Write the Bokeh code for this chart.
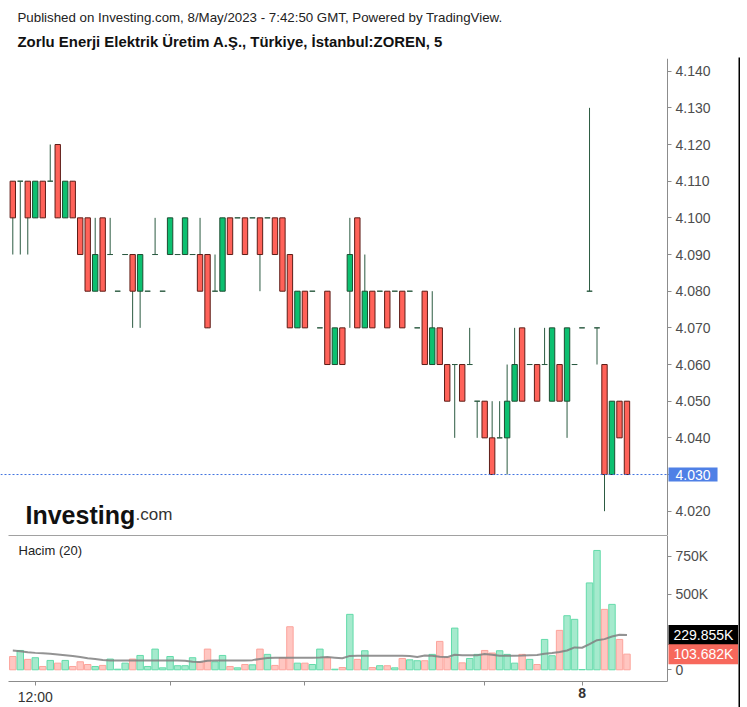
from bokeh.plotting import figure
from bokeh.models import Range1d, FixedTicker, LinearAxis, Label, ColumnDataSource, NumeralTickFormatter
from bokeh.layouts import column, row
from bokeh.embed import file_html
from bokeh.resources import INLINE

# ---------------- data (5-minute candles, ZOREN) ----------------
opens = [4.110, 4.110, 4.110, 4.100, 4.110, 4.110, 4.120, 4.100, 4.110, 4.100,
         4.100, 4.080, 4.100, 4.090, 4.080, 4.090, 4.090, 4.080, 4.080, 4.090,
         4.080, 4.090, 4.090, 4.090, 4.090, 4.090, 4.090, 4.080, 4.080, 4.100,
         4.100, 4.100, 4.100, 4.100, 4.100, 4.100, 4.100, 4.090, 4.070, 4.080,
         4.080, 4.070, 4.080, 4.060, 4.070, 4.080, 4.100, 4.070, 4.080, 4.080,
         4.080, 4.080, 4.080, 4.080, 4.070, 4.080, 4.060, 4.070, 4.060, 4.060,
         4.060, 4.060, 4.050, 4.050, 4.040, 4.040, 4.040, 4.050, 4.070, 4.060,
         4.060, 4.060, 4.050, 4.060, 4.050, 4.060, 4.070, 4.080, 4.070, 4.060,
         4.030, 4.050, 4.050]
highs = [4.110, 4.110, 4.110, 4.110, 4.110, 4.120, 4.120, 4.110, 4.110, 4.100,
         4.100, 4.100, 4.100, 4.100, 4.080, 4.090, 4.090, 4.090, 4.080, 4.100,
         4.080, 4.100, 4.090, 4.100, 4.090, 4.100, 4.090, 4.090, 4.100, 4.100,
         4.100, 4.100, 4.100, 4.100, 4.100, 4.100, 4.100, 4.090, 4.080, 4.080,
         4.080, 4.070, 4.080, 4.070, 4.070, 4.100, 4.100, 4.090, 4.080, 4.080,
         4.080, 4.080, 4.080, 4.080, 4.070, 4.080, 4.080, 4.070, 4.060, 4.060,
         4.060, 4.070, 4.050, 4.050, 4.050, 4.050, 4.060, 4.070, 4.070, 4.060,
         4.060, 4.070, 4.070, 4.060, 4.070, 4.060, 4.070, 4.130, 4.070, 4.060,
         4.050, 4.050, 4.050]
lows = [4.090, 4.090, 4.090, 4.100, 4.100, 4.110, 4.100, 4.100, 4.100, 4.090,
        4.080, 4.080, 4.080, 4.090, 4.080, 4.090, 4.070, 4.070, 4.080, 4.090,
        4.080, 4.090, 4.090, 4.090, 4.090, 4.080, 4.070, 4.080, 4.080, 4.090,
        4.100, 4.090, 4.100, 4.080, 4.100, 4.090, 4.080, 4.070, 4.070, 4.070,
        4.080, 4.070, 4.060, 4.060, 4.060, 4.070, 4.070, 4.070, 4.070, 4.080,
        4.070, 4.080, 4.070, 4.080, 4.070, 4.060, 4.060, 4.060, 4.050, 4.040,
        4.050, 4.060, 4.040, 4.040, 4.030, 4.040, 4.030, 4.050, 4.050, 4.060,
        4.050, 4.060, 4.050, 4.050, 4.040, 4.060, 4.070, 4.080, 4.060, 4.020,
        4.030, 4.040, 4.030]
closes = [4.100, 4.110, 4.100, 4.110, 4.100, 4.110, 4.100, 4.110, 4.100, 4.090,
          4.080, 4.090, 4.080, 4.090, 4.080, 4.090, 4.080, 4.090, 4.080, 4.090,
          4.080, 4.100, 4.090, 4.100, 4.090, 4.080, 4.070, 4.080, 4.100, 4.090,
          4.100, 4.090, 4.100, 4.090, 4.100, 4.090, 4.080, 4.070, 4.080, 4.070,
          4.080, 4.070, 4.060, 4.070, 4.060, 4.090, 4.070, 4.080, 4.070, 4.080,
          4.070, 4.080, 4.070, 4.080, 4.070, 4.060, 4.070, 4.060, 4.050, 4.060,
          4.050, 4.060, 4.050, 4.040, 4.030, 4.040, 4.050, 4.060, 4.050, 4.060,
          4.050, 4.060, 4.070, 4.050, 4.070, 4.060, 4.070, 4.080, 4.070, 4.030,
          4.050, 4.040, 4.030]
volumes_k = [88, 128, 69, 80, 22, 62, 44, 62, 22, 53,
             35, 22, 29, 71, 4, 44, 71, 95, 22, 137,
             13, 88, 27, 27, 80, 49, 137, 53, 95, 22,
             13, 35, 33, 137, 102, 29, 80, 285, 44, 44,
             35, 137, 80, 4, 15, 367, 69, 126, 15, 27,
             27, 13, 75, 66, 60, 60, 102, 188, 80, 276,
             46, 75, 102, 128, 111, 126, 102, 44, 102, 69,
             35, 201, 93, 261, 358, 334, 2, 575, 790, 400,
             433, 201, 103.682]
ma20_k = [128, 123, 116, 112, 109, 106, 102, 97, 92, 84,
          76, 72, 65, 62, 62, 62, 62, 62, 62, 62,
          62, 62, 62, 60, 54, 52, 60, 62, 62, 62,
          62, 62, 64, 72, 78, 80, 80, 80, 80, 80,
          80, 81, 84, 80, 76, 92, 93, 93, 93, 93,
          93, 93, 93, 92, 85, 94, 93, 87, 84, 100,
          97, 97, 97, 104, 100, 93, 93, 93, 94, 96,
          98, 106, 111, 118, 128, 148, 146, 170, 196, 203,
          220, 232, 229.855]
time_tick_idx = [3, 21, 39, 63, 76]
time_tick_labels = ["12:00", "", "", "", ""]
day_label = "8"
price_ticks = [4.020, 4.030, 4.040, 4.050, 4.060, 4.070, 4.080, 4.090, 4.100, 4.110, 4.120, 4.130, 4.140]
vol_ticks = [0, 500, 750]
vol_tick_labels = ["0", "500K", "750K"]

title1 = "Published on Investing.com, 8/May/2023 - 7:42:50 GMT, Powered by TradingView."
title2 = "Zorlu Enerji Elektrik Üretim A.Ş., Türkiye, İstanbul:ZOREN, 5"

# ---------------- styles / layout constants ----------------
FONT = "Liberation Sans"
UP_FILL, UP_LINE = "#0cc070", "#1d4d31"
DN_FILL, DN_LINE = "#ff6259", "#5e1d17"
WICK = "#2c5b42"
VUP_FILL, VUP_LINE = "#a5eacd", "#63dbaa"
VDN_FILL, VDN_LINE = "#ffc6c1", "#fca49c"
AXIS_C = "#8c8c8c"
LABEL_C = "#4d4d4d"

X_START, X_END = -1.642, 96.89      # frame spans the whole 738 px width
X_AXIS = 87.41                       # where the right price axis sits
X_FIRST = -0.574                     # left end of the bottom axis line
P_Y0, P_Y1 = 4.01337, 4.14346
V_Y0, V_Y1 = -249.6, 889.0
V_AXIS_Y = -77.5

n = len(opens)
xs = list(range(n))
fills, lines, vfill, vline, tops, bots = [], [], [], [], [], []
for o, c in zip(opens, closes):
    tops.append(max(o, c))
    bots.append(min(o, c))
    if c > o:
        fills.append(UP_FILL); lines.append(UP_LINE)
    elif c < o:
        fills.append(DN_FILL); lines.append(DN_LINE)
    else:
        fills.append(UP_FILL); lines.append(WICK)
    if c >= o:
        vfill.append(VUP_FILL); vline.append(VUP_LINE)
    else:
        vfill.append(VDN_FILL); vline.append(VDN_LINE)

src = ColumnDataSource(dict(x=xs, high=highs, low=lows, top=tops, bottom=bots,
                            fill=fills, line=lines, vol=volumes_k, vfill=vfill,
                            vline=vline, ma=ma20_k))

xr = Range1d(X_START, X_END)


def bare(fig):
    fig.grid.visible = False
    fig.outline_line_color = None
    fig.background_fill_color = "white"
    fig.border_fill_color = "white"
    return fig


# ---------------- header ----------------
h = bare(figure(width=738, height=58, x_range=Range1d(0, 738), y_range=Range1d(0, 58),
                output_backend="svg", toolbar_location=None, x_axis_location=None,
                y_axis_location=None, min_border=0))
h.add_layout(Label(x=17, y=41, x_units="screen", y_units="screen", text=title1,
                   text_font=FONT, text_font_size="13.3px", text_color="#222222",
                   text_baseline="middle", text_align="left"))
h.add_layout(Label(x=17, y=17, x_units="screen", y_units="screen", text=title2,
                   text_font=FONT, text_font_size="14.9px", text_font_style="bold",
                   text_color="#111111", text_baseline="middle", text_align="left"))

# ---------------- price panel ----------------
p = bare(figure(width=738, height=477, x_range=xr, y_range=Range1d(P_Y0, P_Y1),
                output_backend="svg", toolbar_location=None, x_axis_location=None,
                y_axis_location=None, min_border=0))

ya = LinearAxis(fixed_location=X_AXIS, ticker=FixedTicker(ticks=price_ticks),
                formatter=NumeralTickFormatter(format="0.000"))
ya.axis_line_color = AXIS_C
ya.major_tick_line_color = AXIS_C
ya.major_tick_out = 4
ya.major_tick_in = 0
ya.minor_tick_line_color = None
ya.major_label_standoff = 4
ya.major_label_text_font = FONT
ya.major_label_text_font_size = "14px"
ya.major_label_text_color = LABEL_C
p.add_layout(ya, "right")

p.segment(x0="x", y0="high", x1="x", y1="low", line_color=WICK, line_width=1, source=src)
p.vbar(x="x", width=0.72, top="top", bottom="bottom", fill_color="fill",
       line_color="line", line_width=1, source=src)

last_close = closes[-1]
p.segment(x0=[X_START], x1=[X_AXIS], y0=[last_close], y1=[last_close],
          line_color="#3f72e0", line_dash="2 2", line_width=1)
p.add_layout(Label(x=668, x_units="screen", y=last_close, text=f"{last_close:.3f}",
                   text_color="white", text_font=FONT, text_font_size="14px",
                   text_baseline="middle", text_align="left",
                   background_fill_color="#4f80e6",
                   padding=dict(left=7, right=7, top=2, bottom=2)))

p.add_layout(Label(x=25, y=21, x_units="screen", y_units="screen", text="Investing",
                   text_font=FONT, text_font_size="25px", text_font_style="bold",
                   text_color="#111111", text_baseline="alphabetic", text_align="left"))
p.add_layout(Label(x=135, y=21, x_units="screen", y_units="screen", text=".com",
                   text_font=FONT, text_font_size="17px",
                   text_color="#333333", text_baseline="alphabetic", text_align="left"))

# ---------------- volume panel ----------------
v = bare(figure(width=738, height=172, x_range=xr, y_range=Range1d(V_Y0, V_Y1),
                output_backend="svg", toolbar_location=None, x_axis_location=None,
                y_axis_location=None, min_border=0))

sep = LinearAxis(fixed_location=V_Y1, ticker=FixedTicker(ticks=[]), bounds=(X_FIRST, X_AXIS),
                 major_label_text_font_size="0px", major_tick_out=0, major_tick_in=0,
                 minor_tick_out=0, minor_tick_in=0, axis_line_color="#444444")
v.add_layout(sep, "above")

vy = LinearAxis(fixed_location=X_AXIS, ticker=FixedTicker(ticks=vol_ticks), bounds=(V_AXIS_Y, V_Y1))
vy.major_label_overrides = {t: l for t, l in zip(vol_ticks, vol_tick_labels)}
vy.axis_line_color = AXIS_C
vy.major_tick_line_color = AXIS_C
vy.major_tick_out = 4
vy.major_tick_in = 0
vy.minor_tick_line_color = None
vy.major_label_standoff = 4
vy.major_label_text_font = FONT
vy.major_label_text_font_size = "14px"
vy.major_label_text_color = LABEL_C
v.add_layout(vy, "right")

vx = LinearAxis(fixed_location=V_AXIS_Y, ticker=FixedTicker(ticks=time_tick_idx),
                bounds=(X_FIRST, X_AXIS))
vx.major_label_overrides = {t: l for t, l in zip(time_tick_idx, time_tick_labels)}
vx.axis_line_color = AXIS_C
vx.major_tick_line_color = AXIS_C
vx.major_tick_out = 4
vx.major_tick_in = 0
vx.minor_tick_line_color = None
vx.major_label_standoff = 3
vx.major_label_text_font = FONT
vx.major_label_text_font_size = "14px"
vx.major_label_text_color = "#333333"
v.add_layout(vx, "below")

v.vbar(x="x", width=0.86, top="vol", bottom=0, fill_color="vfill", line_color="vline",
       line_width=1, source=src)
v.line(x="x", y="ma", line_color="#808080", line_width=2, line_alpha=0.85, source=src)

v.add_layout(Label(x=18, y=157, x_units="screen", y_units="screen", text="Hacim (20)",
                   text_font=FONT, text_font_size="13px", text_color="#222222",
                   text_baseline="middle", text_align="left"))
v.add_layout(Label(x=time_tick_idx[-1], y=15, y_units="screen", text=day_label,
                   text_font=FONT, text_font_size="14px", text_font_style="bold",
                   text_color="#333333", text_baseline="middle", text_align="center"))
v.add_layout(Label(x=668, x_units="screen", y=ma20_k[-1], text=f"{ma20_k[-1]:.3f}K",
                   text_color="white", text_font=FONT, text_font_size="14px",
                   text_baseline="middle", text_align="left",
                   background_fill_color="#000000",
                   padding=dict(left=5, right=5, top=2, bottom=2)))
v.add_layout(Label(x=668, x_units="screen", y=volumes_k[-1], text=f"{volumes_k[-1]:.3f}K",
                   text_color="white", text_font=FONT, text_font_size="14px",
                   text_baseline="middle", text_align="left",
                   background_fill_color="#f7685c",
                   padding=dict(left=5, right=5, top=2, bottom=2)))

# ---------------- right border strip ----------------
strip = bare(figure(frame_width=2, frame_height=650, x_range=Range1d(0, 1), y_range=Range1d(0, 1),
                    output_backend="svg", toolbar_location=None, x_axis_location=None,
                    y_axis_location=None, min_border_left=0, min_border_right=0,
                    min_border_top=57, min_border_bottom=0))
strip.background_fill_color = "#000000"

layout = row(column(h, p, v), strip)
open("out.html", "w").write(file_html(layout, INLINE))
